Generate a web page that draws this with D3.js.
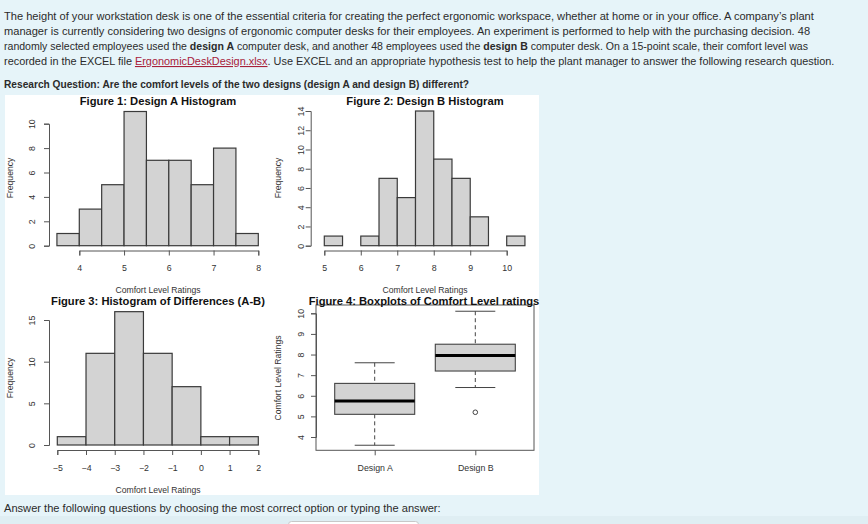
<!DOCTYPE html>
<html><head><meta charset="utf-8">
<script src="https://cdn.jsdelivr.net/npm/d3@7"></script>
<style>
html,body{margin:0;padding:0;background:#e6f4f9;}
svg{display:block;}
</style></head>
<body>
<svg id="c" width="868" height="524"></svg>
<script>
// ---------- data ----------
const edgesA = [3.5,4,4.5,5,5.5,6,6.5,7,7.5,8];
const countsA = [1,3,5,11,7,7,5,8,1];
const xTicksA = [4,5,6,7,8];
const yTicksA = [0,2,4,6,8,10];

const edgesB = [5,5.5,6,6.5,7,7.5,8,8.5,9,9.5,10,10.5];
const countsB = [1,0,1,7,5,14,9,7,3,0,1];
const xTicksB = [5,6,7,8,9,10];
const yTicksB = [0,2,4,6,8,10,12,14];

const edgesD = [-5,-4,-3,-2,-1,0,1,2];
const countsD = [1,11,16,11,7,1,1];
const xTicksD = [-5,-4,-3,-2,-1,0,1,2];
const yTicksD = [0,5,10,15];

const boxGroups = ["Design A","Design B"];
const boxMin = [3.6,6.4];
const boxQ1 = [5.1,7.2];
const boxMed = [5.75,7.95];
const boxQ3 = [6.6,8.5];
const boxMax = [7.6,10.1];
const boxOutliers = [[],[5.2]];
const yTicksBox = [4,5,6,7,8,9,10];

const titles = ["Figure 1: Design A Histogram","Figure 2: Design B Histogram","Figure 3: Histogram of Differences (A-B)","Figure 4: Boxplots of Comfort Level ratings"];

// ---------- drawing ----------
const svg = d3.select("#c");
const FONT = "'Liberation Sans', Arial, Helvetica, sans-serif";
const TXT = "#2b2b2b";
const fmt = d3.format("d");

// paragraph text: font size fitted so each line spans the reference width
const para = svg.append("g").attr("font-family", FONT).attr("fill", TXT);
function measure(txt, size, bold){
  const t = para.append("text").attr("font-size", size).text(txt);
  if(bold) t.attr("font-weight","bold");
  const w = t.node().getComputedTextLength(); t.remove(); return w;
}
function line(y, target, parts, base){
  base = base || 11.1;
  const total = s => d3.sum(parts, (p,i)=> measure(p.t, s, p.b) + (i===0||p.nogap ? 0 : measure("a a",s)-measure("aa",s)));
  const size = base * target / total(base);
  const sp = measure("a a", size) - measure("aa", size);
  let x = 4;
  parts.forEach((p,i)=>{
    if(i>0 && !p.nogap) x += sp;
    const w = measure(p.t, size, p.b);
    const t = para.append("text").attr("x",x).attr("y",y).attr("font-size",size).text(p.t);
    if(p.b) t.attr("font-weight","bold");
    if(p.link) t.attr("fill","#a8213a").attr("text-decoration","underline");
    x += w;
  });
}
line(20, 810, [{t:"The height of your workstation desk is one of the essential criteria for creating the perfect ergonomic workspace, whether at home or in your office. A company\u2019s plant"}]);
line(35, 806, [{t:"manager is currently considering two designs of ergonomic computer desks for their employees. An experiment is performed to help with the purchasing decision. 48"}]);
line(50, 804, [{t:"randomly selected employees used the"},{t:"design A",b:1},{t:"computer desk, and another 48 employees used the"},{t:"design B",b:1},{t:"computer desk. On a 15-point scale, their comfort level was"}]);
line(65, 831, [{t:"recorded in the EXCEL file"},{t:"ErgonomicDeskDesign.xlsx",link:1},{t:". Use EXCEL and an appropriate hypothesis test to help the plant manager to answer the following research question.",nogap:1}]);
line(88, 465, [{t:"Research Question: Are the comfort levels of the two designs (design A and design B) different?",b:1}], 10.6);
line(512, 437, [{t:"Answer the following questions by choosing the most correct option or typing the answer:"}], 11.8);

// bottom gradient + input box
svg.append("rect").attr("x",0).attr("y",516).attr("width",868).attr("height",8).attr("fill","#dfeef3");
svg.append("rect").attr("x",288.5).attr("y",521.5).attr("width",130).attr("height",20).attr("rx",3)
  .attr("fill","#fff").attr("stroke","#c8c8c8");

// white panel
svg.append("rect").attr("x",5).attr("y",95).attr("width",534).attr("height",400).attr("fill","#ffffff");

const AX = "#555";
function styleAxis(g){
  g.selectAll("path,line").attr("stroke",AX).attr("stroke-width",1);
  g.selectAll("text").attr("fill","#333").attr("font-family",FONT).attr("font-size",8.8);
}
function rotYLabels(g, off){
  g.selectAll(".tick text").attr("x",0).attr("dy","0.35em").attr("text-anchor","middle")
    .attr("transform",`translate(${-off},0) rotate(-90)`);
}
function label(x,y,txt,opts={}){
  const t = svg.append("text").attr("x",x).attr("y",y).text(txt)
    .attr("font-family",FONT).attr("font-size",opts.size||8.6).attr("fill",opts.fill||"#333")
    .attr("text-anchor","middle").attr("dy","0.35em");
  if(opts.bold) t.attr("font-weight","bold");
  if(opts.rot) t.attr("transform",`rotate(-90,${x},${y})`);
  return t;
}

function histogram(cfg){
  const x = d3.scaleLinear().domain(cfg.xd).range(cfg.xr);
  const y = d3.scaleLinear().domain(cfg.yd).range(cfg.yr);
  const bins = cfg.counts.map((c,i)=>({x0:cfg.edges[i],x1:cfg.edges[i+1],c}));
  svg.append("g").selectAll("rect").data(bins.filter(b=>b.c>0)).join("rect")
    .attr("x",d=>x(d.x0)).attr("width",d=>x(d.x1)-x(d.x0))
    .attr("y",d=>y(d.c)).attr("height",d=>y(0)-y(d.c))
    .attr("fill","#d3d3d3").attr("stroke","#3a3a3a").attr("stroke-width",1.2);
  const gx = svg.append("g").attr("transform",`translate(0,${cfg.axisY})`)
    .call(d3.axisBottom(x).tickValues(cfg.xTicks).tickFormat(fmt).tickSizeOuter(0).tickSize(5).tickPadding(9.5));
  styleAxis(gx);
  const gy = svg.append("g").attr("transform",`translate(${cfg.axisX},0)`)
    .call(d3.axisLeft(y).tickValues(cfg.yTicks).tickFormat(fmt).tickSizeOuter(0).tickSize(5));
  styleAxis(gy); rotYLabels(gy, cfg.labOff);
  label(cfg.titleX, cfg.titleY, cfg.title, {bold:1,size:11.2,fill:"#111"});
  label(cfg.titleX, cfg.xTitleY, "Comfort Level Ratings");
  label(cfg.yTitleX, cfg.yTitleY, "Frequency", {rot:1});
}

histogram({edges:edgesA,counts:countsA,xTicks:xTicksA,yTicks:yTicksA,
  xd:[4,8],xr:[79.3,258.3],yd:[0,10],yr:[245.7,123.7],axisY:250.5,axisX:49,labOff:17.3,
  title:titles[0],titleX:158,titleY:101.5,xTitleY:290,yTitleX:10,yTitleY:178});
histogram({edges:edgesB,counts:countsB,xTicks:xTicksB,yTicks:yTicksB,
  xd:[5,10],xr:[324.3,506.7],yd:[0,14],yr:[245.7,111],axisY:250.5,axisX:310.7,labOff:10,
  title:titles[1],titleX:425,titleY:101.5,xTitleY:290,yTitleX:278,yTitleY:178});
histogram({edges:edgesD,counts:countsD,xTicks:xTicksD,yTicks:yTicksD,
  xd:[-5,2],xr:[57.3,258.3],yd:[0,15],yr:[445,320],axisY:450,axisX:49,labOff:17.3,
  title:titles[2],titleX:158,titleY:301.5,xTitleY:490,yTitleX:10,yTitleY:378});

// boxplot
(function(){
  const x = d3.scalePoint().domain(boxGroups).range([374.7,475.3]);
  const y = d3.scaleLinear().domain([4,10]).range([437,313.3]);
  const bw = 80, cw = 40;
  const data = boxGroups.map((g,i)=>({g,min:boxMin[i],q1:boxQ1[i],med:boxMed[i],q3:boxQ3[i],max:boxMax[i],out:boxOutliers[i]}));
  const gb = svg.append("g").selectAll("g").data(data).join("g");
  gb.append("line").attr("x1",d=>x(d.g)).attr("x2",d=>x(d.g)).attr("y1",d=>y(d.max)).attr("y2",d=>y(d.q3))
    .attr("stroke","#444").attr("stroke-dasharray","4,3");
  gb.append("line").attr("x1",d=>x(d.g)).attr("x2",d=>x(d.g)).attr("y1",d=>y(d.q1)).attr("y2",d=>y(d.min))
    .attr("stroke","#444").attr("stroke-dasharray","4,3");
  gb.append("line").attr("x1",d=>x(d.g)-cw/2).attr("x2",d=>x(d.g)+cw/2).attr("y1",d=>y(d.max)).attr("y2",d=>y(d.max)).attr("stroke","#444");
  gb.append("line").attr("x1",d=>x(d.g)-cw/2).attr("x2",d=>x(d.g)+cw/2).attr("y1",d=>y(d.min)).attr("y2",d=>y(d.min)).attr("stroke","#444");
  gb.append("rect").attr("x",d=>x(d.g)-bw/2).attr("width",bw).attr("y",d=>y(d.q3)).attr("height",d=>y(d.q1)-y(d.q3))
    .attr("fill","#d3d3d3").attr("stroke","#444").attr("stroke-width",1.1);
  gb.append("line").attr("x1",d=>x(d.g)-bw/2).attr("x2",d=>x(d.g)+bw/2).attr("y1",d=>y(d.med)).attr("y2",d=>y(d.med))
    .attr("stroke","#000").attr("stroke-width",3);
  gb.selectAll("circle").data(d=>d.out.map(v=>({g:d.g,v}))).join("circle")
    .attr("cx",d=>x(d.g)).attr("cy",d=>y(d.v)).attr("r",2.3).attr("fill","none").attr("stroke","#444");
  // frame
  svg.append("rect").attr("x",316).attr("y",305).attr("width",218).attr("height",145.3).attr("fill","none").attr("stroke",AX);
  const gx = svg.append("g").attr("transform","translate(0,450.3)")
    .call(d3.axisBottom(x).tickSizeOuter(0).tickSize(5).tickPadding(9));
  styleAxis(gx); gx.select(".domain").remove();
  const gy = svg.append("g").attr("transform","translate(316,0)")
    .call(d3.axisLeft(y).tickValues(yTicksBox).tickFormat(fmt).tickSizeOuter(0).tickSize(5));
  styleAxis(gy); rotYLabels(gy, 15.3);
  label(424, 301, titles[3], {bold:1,size:11.2,fill:"#111"});
  label(278, 378, "Comfort Level Ratings", {rot:1});
})();
</script>
</body></html>
